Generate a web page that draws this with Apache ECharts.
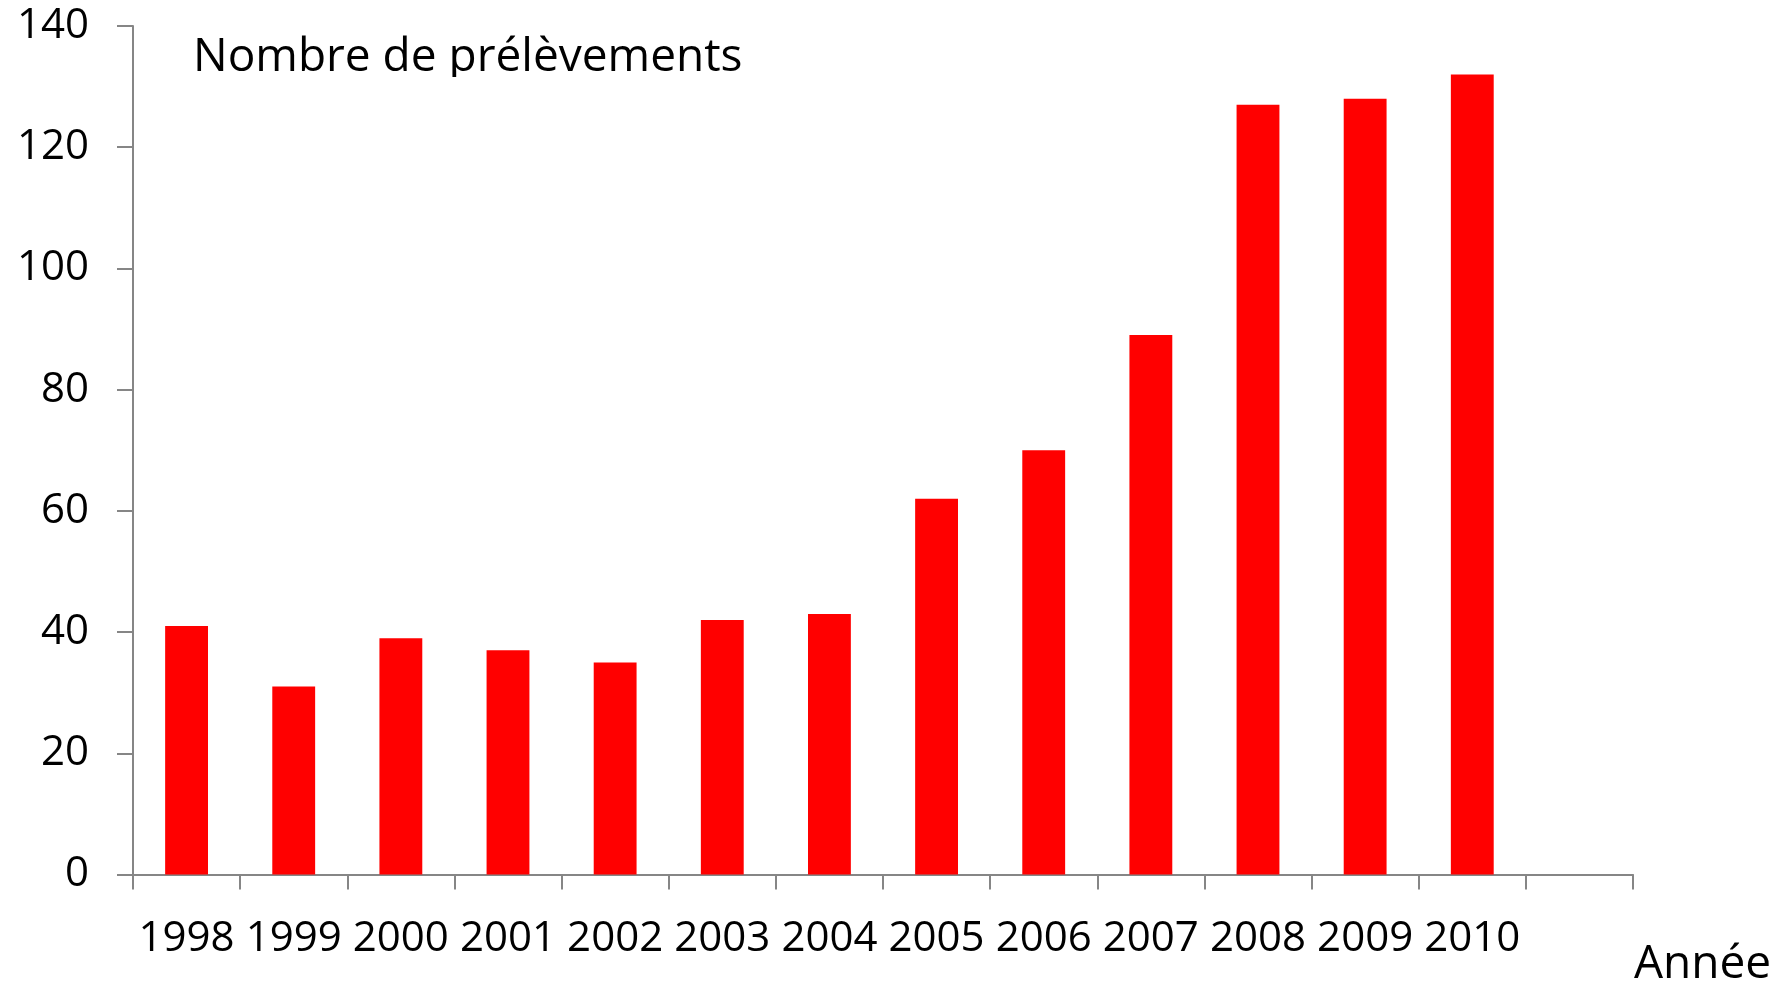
<!DOCTYPE html>
<html>
<head>
<meta charset="utf-8">
<script src="https://cdn.jsdelivr.net/npm/echarts@6/dist/echarts.min.js"></script>
<style>
html,body{margin:0;padding:0;background:#fff;}
#chart{width:1785px;height:985px;}
</style>
</head>
<body>
<div id="chart"></div>
<script>
const categories = ['1998','1999','2000','2001','2002','2003','2004','2005','2006','2007','2008','2009','2010',''];
const values = [41, 31, 39, 37, 35, 42, 43, 62, 70, 89, 127, 128, 132, null];
const yTicks = { min: 0, max: 140, interval: 20 };
const titleText = 'Nombre de prélèvements';
const xName = 'Année';

const FONT = '"Open Sans", "Noto Sans", sans-serif';
const AXIS = '#868686';

const chart = echarts.init(document.getElementById('chart'), null, { renderer: 'canvas' });
chart.setOption({
  backgroundColor: '#ffffff',
  animation: false,
  grid: { left: 133, right: 152, top: 26, bottom: 110.5, containLabel: false },
  xAxis: {
    type: 'category',
    data: categories,
    boundaryGap: true,
    axisLine: { lineStyle: { color: AXIS, width: 2 } },
    axisTick: { show: true, length: 15, lineStyle: { color: AXIS, width: 2 }, alignWithLabel: false },
    axisLabel: { interval: 0, margin: 44, color: '#000', fontFamily: FONT, fontSize: 42 },
    splitLine: { show: false }
  },
  yAxis: {
    type: 'value',
    min: yTicks.min, max: yTicks.max, interval: yTicks.interval,
    axisLine: { show: true, lineStyle: { color: AXIS, width: 2 } },
    axisTick: { show: true, length: 16, lineStyle: { color: AXIS, width: 2 } },
    axisLabel: { margin: 44, color: '#000', fontFamily: FONT, fontSize: 42 },
    splitLine: { show: false }
  },
  series: [{
    type: 'bar',
    data: values,
    barWidth: '40%',
    itemStyle: { color: '#ff0000' }
  }],
  graphic: [
    {
      type: 'text', left: 193, top: 35, z: 10,
      style: { text: titleText, fill: '#000', font: '46px ' + FONT }
    },
    {
      type: 'rect', left: 188, top: 77, z: 11,
      shape: { width: 580, height: 18 },
      style: { fill: '#ffffff' }
    },
    {
      type: 'text', left: 1634, top: 942, z: 10,
      style: { text: xName, fill: '#000', font: '46px ' + FONT }
    }
  ]
});
</script>
</body>
</html>
